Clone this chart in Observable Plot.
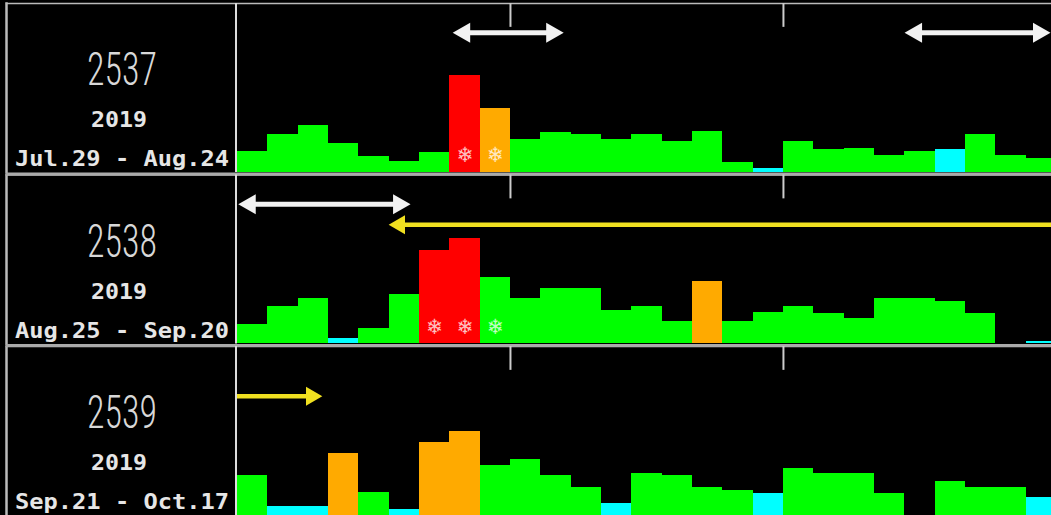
<!DOCTYPE html>
<html>
<head>
<meta charset="utf-8">
<script src="https://cdn.jsdelivr.net/npm/d3@7"></script>
<script src="https://cdn.jsdelivr.net/npm/@observablehq/plot@0.6"></script>
<style>
  html, body { margin: 0; padding: 0; background: #000; overflow: hidden; }
  svg { overflow: hidden; display: block; }
</style>
</head>
<body>
<div id="chart"></div>
<script>
// ---- data ----
const rotations = [2537, 2538, 2539];
const years = [2019, 2019, 2019];
const periods = ["Jul.29 - Aug.24", "Aug.25 - Sep.20", "Sep.21 - Oct.17"];

const values2537 = [10.5, 19, 23.5, 14.5, 8, 5.5, 10, 49, 32, 16.5, 20, 19, 16.5, 19, 15.5, 20.5, 5, 2, 15.5, 11.5, 12, 8.5, 10.5, 11.5, 19, 8.5, 7];
const values2538 = [10, 19, 23, 3, 8, 25, 47, 53, 33.5, 23, 28, 28, 17, 19, 11.5, 31.5, 11.5, 16, 19, 15.5, 13, 23, 23, 21.5, 15.5, 0.5, 1.5];
const values2539 = [20, 4.5, 4.5, 31, 11.5, 3, 36.5, 42.5, 25, 28, 20, 14, 6, 21, 20, 14, 12.5, 11, 23.5, 21, 21, 11, 0, 17, 14, 14, 9];

// Q = quiet, N = normal, A = active, S = storm
const levels2537 = [..."NNNNNNNSANNNNNNNNQNNNNNQNNN"];
const levels2538 = [..."NNNQNNSSNNNNNNNANNNNNNNNNQQ"];
const levels2539 = [..."NQQANQAANNNNQNNNNQNNNNNNNNQ"];

const levelNames = {Q: "quiet", N: "normal", A: "active", S: "storm"};
const levelOrder = ["quiet", "normal", "active", "storm"];
const levelColors = ["#00ffff", "#00ff00", "#ffaa00", "#ff0000"];

// storm-day markers
const starDays = [
  {rotation: 2537, day: 7}, {rotation: 2537, day: 8},
  {rotation: 2538, day: 6}, {rotation: 2538, day: 7}, {rotation: 2538, day: 8}
];

// double-headed white arrows (day spans)
const whiteArrows = [
  {rotation: 2537, start: 7.1, end: 10.75},
  {rotation: 2537, start: 22.0, end: 26.8},
  {rotation: 2538, start: 0.03, end: 5.7}
];
// single-headed yellow arrows (head at "end")
const yellowArrows = [
  {rotation: 2538, start: 27.5, end: 4.98},
  {rotation: 2539, start: 0, end: 2.8}
];

const tickDays = [9, 18];

// ---- layout ----
const W = 1051, H = 515;
const mLeft = 6, mTop = 3;
const panelPx = 231;          // label panel width
const dayPx = 30.33;
const xMin = -panelPx / dayPx;
const xMax = (W - mLeft - panelPx) / dayPx;
const yMax = 85;
const panelMid = xMin / 2;
const headCut = 0.3;

const valueRows = [values2537, values2538, values2539];
const levelRows = [levels2537, levels2538, levels2539];
const bars = rotations.flatMap((r, i) =>
  valueRows[i].map((v, d) => ({rotation: r, day: d, value: v, level: levelNames[levelRows[i][d]]})));

const labels = rotations.map((r, i) => ({rotation: r, year: years[i], period: periods[i]}));

const shafts = [
  ...whiteArrows.map(a => ({rotation: a.rotation, a: a.start + headCut, b: a.end - headCut, kind: "white"})),
  ...yellowArrows.map(a => {
    const dir = Math.sign(a.end - a.start);
    return {rotation: a.rotation, a: a.start, b: a.end - dir * headCut, kind: "yellow"};
  })
];
const whiteHeads = whiteArrows.flatMap(a => [
  {rotation: a.rotation, x: a.start, dir: -1},
  {rotation: a.rotation, x: a.end, dir: 1}
]);
const yellowHeads = yellowArrows.map(a => ({rotation: a.rotation, x: a.end, dir: Math.sign(a.end - a.start)}));

const whiteY = 70.3, yellowY = 60;

const chart = Plot.plot({
  width: W,
  height: H,
  marginLeft: mLeft,
  marginTop: mTop,
  marginRight: 0,
  marginBottom: 0,
  style: {background: "#000", color: "#ddd"},
  x: {domain: [xMin, xMax], axis: null},
  y: {domain: [0, yMax], axis: null},
  fy: {domain: rotations, axis: null, paddingInner: 0.0146, paddingOuter: 0, round: false},
  color: {domain: levelOrder, range: levelColors},
  marks: [
    Plot.rect(bars, {
      fy: "rotation", x1: "day", x2: d => d.day + 1, y1: 0, y2: "value",
      fill: "level", shapeRendering: "crispEdges"
    }),
    Plot.text(starDays, {
      fy: "rotation", x: d => d.day + 0.5, y: 0, dy: -17, lineAnchor: "middle",
      text: () => "\u2744", fill: "#fff", fillOpacity: 0.75,
      fontSize: 21, fontWeight: "bold", fontFamily: "DejaVu Sans"
    }),
    // frame lines
    Plot.frame({anchor: "top", stroke: "#bbb", strokeWidth: 1.5}),
    Plot.frame({anchor: "left", stroke: "#bbb", strokeWidth: 2.5}),
    Plot.ruleY([0], {stroke: "#aaa", strokeWidth: 3, dy: 1.5}),
    Plot.ruleX([0], {stroke: "#ddd", strokeWidth: 2, dx: -1.5}),
    Plot.ruleX(tickDays, {y1: yMax, y2: yMax - 12, stroke: "#ccc", strokeWidth: 2}),
    // arrows
    Plot.ruleY(shafts.filter(s => s.kind === "white"), {
      fy: "rotation", x1: "a", x2: "b", y: whiteY, stroke: "#f2f2f2", strokeWidth: 5
    }),
    Plot.ruleY(shafts.filter(s => s.kind === "yellow"), {
      fy: "rotation", x1: "a", x2: "b", y: yellowY, stroke: "#f0e020", strokeWidth: 4.5
    }),
    Plot.dot(whiteHeads.filter(h => h.dir > 0), {
      fy: "rotation", x: "x", y: whiteY, symbol: "triangle", r: 7.5, rotate: 90, dx: -11.5,
      fill: "#f2f2f2", stroke: "none"
    }),
    Plot.dot(whiteHeads.filter(h => h.dir < 0), {
      fy: "rotation", x: "x", y: whiteY, symbol: "triangle", r: 7.5, rotate: -90, dx: 11.5,
      fill: "#f2f2f2", stroke: "none"
    }),
    Plot.dot(yellowHeads.filter(h => h.dir > 0), {
      fy: "rotation", x: "x", y: yellowY, symbol: "triangle", r: 7, rotate: 90, dx: -11,
      fill: "#f0e020", stroke: "none"
    }),
    Plot.dot(yellowHeads.filter(h => h.dir < 0), {
      fy: "rotation", x: "x", y: yellowY, symbol: "triangle", r: 7, rotate: -90, dx: 11,
      fill: "#f0e020", stroke: "none"
    }),
    // label panel
    Plot.text(labels, {
      fy: "rotation", x: panelMid, frameAnchor: "top", lineAnchor: "middle", dy: 67,
      text: d => String(d.rotation), fill: "#d8d8d8",
      fontSize: 46, fontWeight: 300,
      fontFamily: "'Roboto Condensed', 'Liberation Sans Narrow', 'DejaVu Sans Condensed', sans-serif",
      ariaDescription: "rotation-number"
    }),
    Plot.text(labels, {
      fy: "rotation", x: panelMid - 0.1, frameAnchor: "top", lineAnchor: "middle", dy: 117,
      text: d => String(d.year), fill: "#e6e6e6",
      fontSize: 21, fontWeight: "bold", fontFamily: "'DejaVu Sans Mono', monospace",
      ariaDescription: "rotation-year"
    }),
    Plot.text(labels, {
      fy: "rotation", x: panelMid, frameAnchor: "top", lineAnchor: "middle", dy: 156,
      text: "period", fill: "#e6e6e6",
      fontSize: 21, fontWeight: "bold", fontFamily: "'DejaVu Sans Mono', monospace",
      ariaDescription: "rotation-period"
    })
  ]
});

// stretch label glyphs to the reference widths
d3.select(chart).selectAll("g[aria-description=rotation-number] text")
  .attr("textLength", 70).attr("lengthAdjust", "spacingAndGlyphs");
d3.select(chart).selectAll("g[aria-description=rotation-year] text")
  .attr("textLength", 56).attr("lengthAdjust", "spacingAndGlyphs");
d3.select(chart).selectAll("g[aria-description=rotation-period] text")
  .attr("textLength", 214).attr("lengthAdjust", "spacingAndGlyphs");

document.getElementById("chart").append(chart);
</script>
</body>
</html>
